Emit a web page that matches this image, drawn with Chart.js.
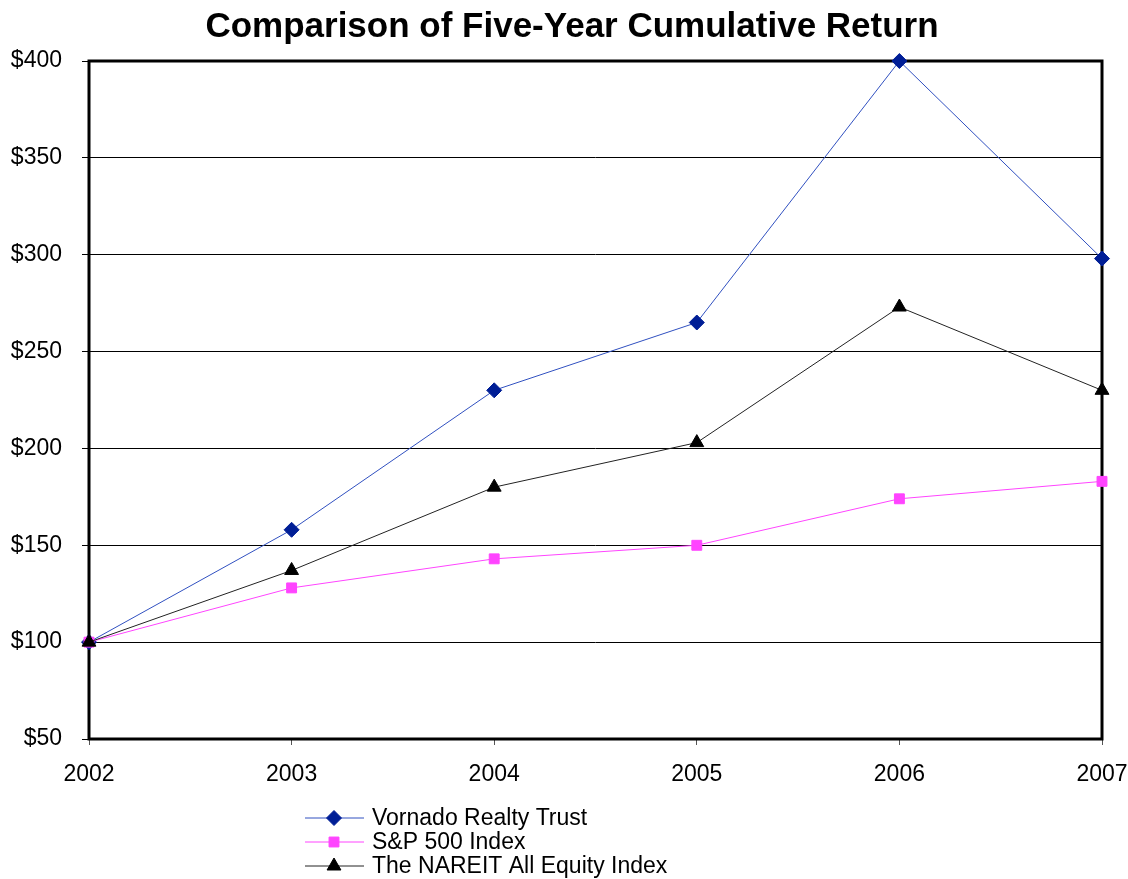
<!DOCTYPE html>
<html>
<head>
<meta charset="utf-8">
<title>Comparison of Five-Year Cumulative Return</title>
<script src="https://cdn.jsdelivr.net/npm/chart.js@4.4.1/dist/chart.umd.min.js"></script>
<style>
    html, body { margin: 0; padding: 0; background: #fff; }
    #wrap { width: 1128px; height: 879px; position: relative; }
</style>
</head>
<body>
<div id="wrap"><canvas id="myChart" width="1128" height="879"></canvas></div>
<script>
var anos = ['2002', '2003', '2004', '2005', '2006', '2007'];
var vornado = [100, 158, 230, 265, 400, 298];
var sp500 = [100, 128, 143, 150, 174, 183];
var nareit = [100, 137, 180, 203, 273, 230];
var nomes = ['Vornado Realty Trust', 'S&P 500 Index', 'The NAREIT All Equity Index'];
var yTicks = [50, 100, 150, 200, 250, 300, 350, 400];
var titulo = 'Comparison of Five-Year Cumulative Return';

var fonte = '"Liberation Sans", Arial, sans-serif';

// titulo desenhado a mao (centrado como no original)
var tituloPlugin = {
    id: 'titulo',
    afterDraw: function (chart) {
        var ctx = chart.ctx;
        ctx.save();
        ctx.fillStyle = '#000';
        ctx.font = 'bold 35px ' + fonte;
        ctx.textAlign = 'center';
        ctx.textBaseline = 'middle';
        ctx.fillText(titulo, 572, 27);
        ctx.restore();
    }
};

// moldura do grafico (topo e direita tambem)
var molduraPlugin = {
    id: 'moldura',
    beforeDatasetsDraw: function (chart) {
        var ctx = chart.ctx;
        var a = chart.chartArea;
        ctx.save();
        ctx.strokeStyle = '#000';
        ctx.lineWidth = 3;
        ctx.strokeRect(a.left, a.top, a.right - a.left, a.bottom - a.top);
        ctx.restore();
    }
};

// legenda empilhada por baixo do eixo
var legendaPlugin = {
    id: 'legenda',
    afterDraw: function (chart) {
        var ctx = chart.ctx;
        ctx.save();
        chart.data.datasets.forEach(function (ds, i) {
            var y = 818 + i * 24;
            ctx.strokeStyle = ds.borderColor;
            ctx.lineWidth = 1;
            ctx.beginPath();
            ctx.moveTo(305, y);
            ctx.lineTo(364, y);
            ctx.stroke();
            ctx.fillStyle = ds.pointBackgroundColor;
            ctx.strokeStyle = ds.pointBorderColor;
            Chart.helpers.drawPoint(ctx, {
                pointStyle: ds.pointStyle,
                rotation: 0,
                radius: ds.pointRadius,
                borderWidth: 1
            }, 334, y);
            ctx.fillStyle = '#000';
            ctx.font = '23px ' + fonte;
            ctx.textBaseline = 'middle';
            ctx.textAlign = 'left';
            ctx.fillText(ds.label, 372, y + 1);
        });
        ctx.restore();
    }
};

var ctx = document.getElementById('myChart');
var myChart = new Chart(ctx, {
    type: 'line',
    data: {
        labels: anos,
        datasets: [{
            label: nomes[0],
            data: vornado,
            borderColor: '#3050c0',
            borderWidth: 1,
            pointStyle: 'rectRot',
            pointRadius: 7.5,
            pointBackgroundColor: '#001e96',
            pointBorderColor: '#001e96',
            pointBorderWidth: 1,
            order: 2,
            clip: false
        }, {
            label: nomes[1],
            data: sp500,
            borderColor: '#ff44ff',
            borderWidth: 1,
            pointStyle: 'rect',
            pointRadius: 7,
            pointBackgroundColor: '#ff44ff',
            pointBorderColor: '#ff44ff',
            pointBorderWidth: 1,
            order: 1,
            clip: false
        }, {
            label: nomes[2],
            data: nareit,
            borderColor: '#222222',
            borderWidth: 1,
            pointStyle: 'triangle',
            pointRadius: 8,
            pointBackgroundColor: '#000',
            pointBorderColor: '#000',
            pointBorderWidth: 1,
            order: 0,
            clip: false
        }]
    },
    options: {
        responsive: false,
        animation: false,
        layout: { padding: { left: 0, right: 26, top: 61, bottom: 0 } },
        plugins: {
            legend: { display: false },
            tooltip: { enabled: false },
            title: { display: false }
        },
        scales: {
            x: {
                offset: false,
                grid: {
                    drawOnChartArea: false,
                    drawTicks: true,
                    tickLength: 6,
                    color: '#555'
                },
                border: { display: false },
                ticks: {
                    color: '#000',
                    font: { family: fonte, size: 23 },
                    padding: 16,
                    maxRotation: 0
                },
                afterFit: function (scale) {
                    scale.height = 140;
                    scale.paddingLeft = 0;
                    scale.paddingRight = 0;
                }
            },
            y: {
                min: 50,
                max: 400,
                afterBuildTicks: function (scale) {
                    scale.ticks = yTicks.map(function (v) { return { value: v }; });
                },
                grid: {
                    color: '#000',
                    lineWidth: 1,
                    drawTicks: true,
                    tickLength: 7
                },
                border: { display: false },
                ticks: {
                    color: '#000',
                    font: { family: fonte, size: 23 },
                    padding: 20,
                    callback: function (v) { return '$' + v; }
                },
                afterFit: function (scale) {
                    scale.width = 89;
                    scale.paddingTop = 0;
                    scale.paddingBottom = 0;
                }
            }
        }
    },
    plugins: [molduraPlugin, legendaPlugin, tituloPlugin]
});
</script>
</body>
</html>
